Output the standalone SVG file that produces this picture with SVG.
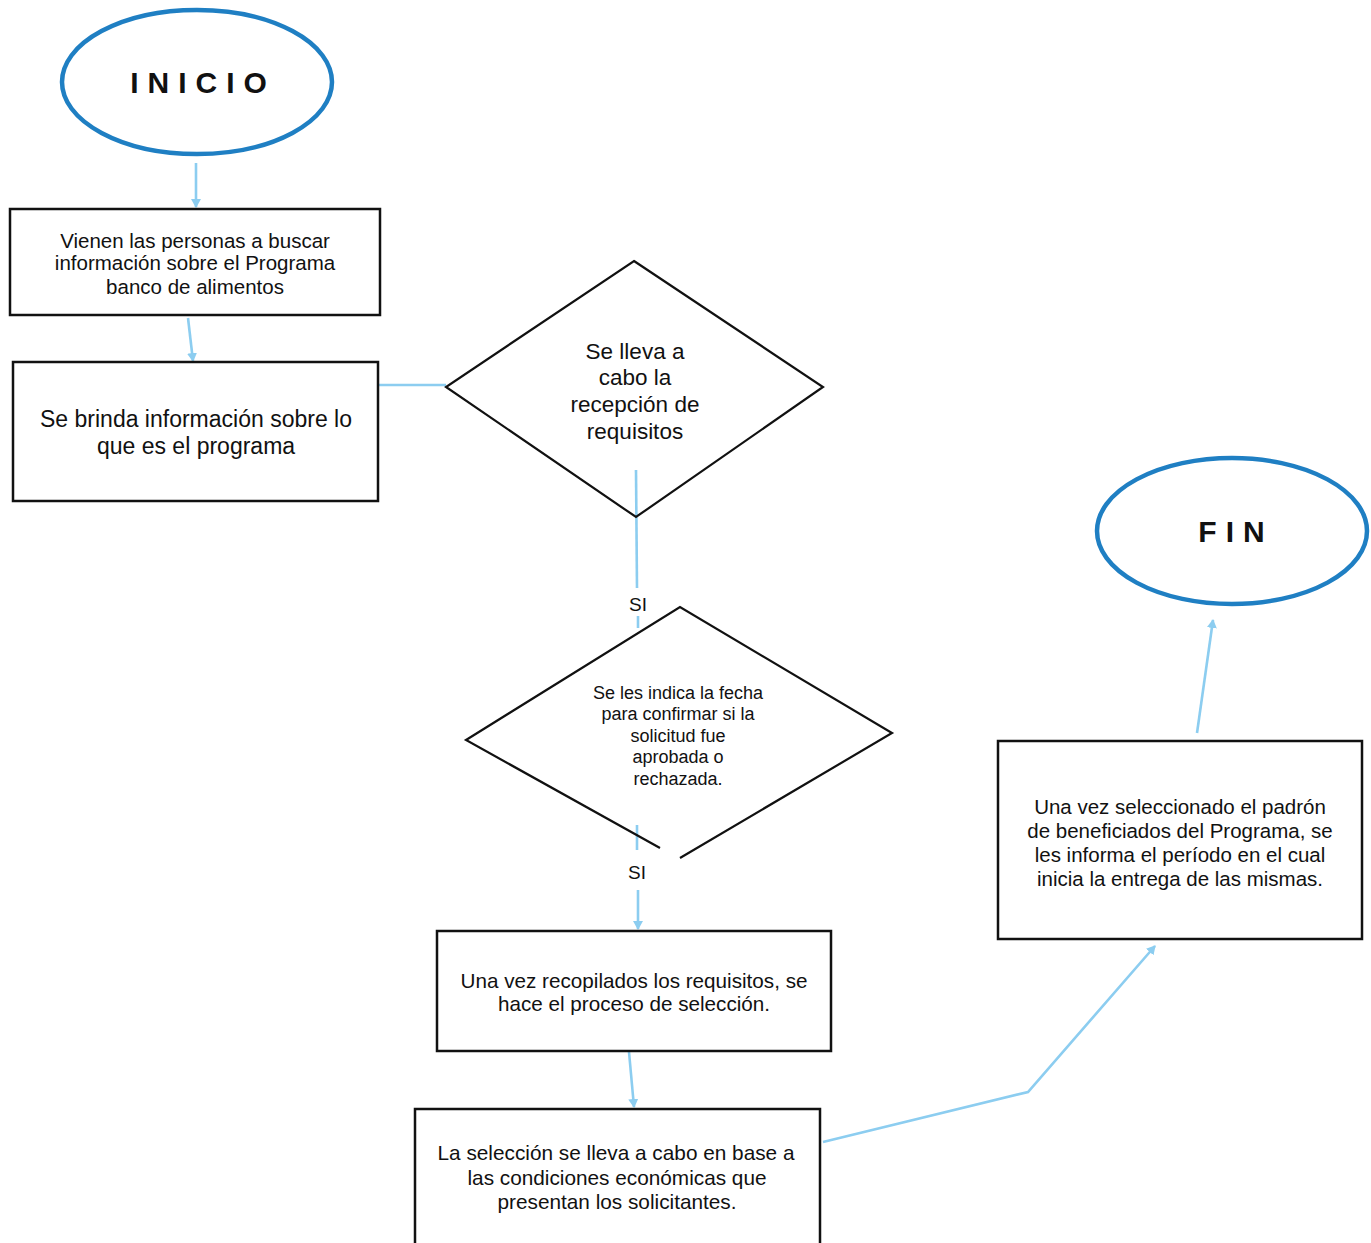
<svg xmlns="http://www.w3.org/2000/svg" width="1371" height="1243" viewBox="0 0 1371 1243">
<style>
.term{fill:#fff;stroke:#1f7fc3;stroke-width:4.5}
.box{fill:#fff;stroke:#111;stroke-width:2.5}
.dia{fill:none;stroke:#111;stroke-width:2.2}
.con{fill:none;stroke:#8ccdf0;stroke-width:2.6}
.t{font-family:"Liberation Sans",Arial,sans-serif;fill:#111;text-anchor:middle}
.tb{font-family:"Liberation Sans",Arial,sans-serif;font-weight:bold;fill:#111;text-anchor:middle;font-size:30px;letter-spacing:9px}
</style>
<defs>
<marker id="ah" markerWidth="10" markerHeight="10" refX="8" refY="5" orient="auto" markerUnits="userSpaceOnUse">
<path d="M0,0 L9,5 L0,10 Z" fill="#8ccdf0"/>
</marker>
</defs>
<rect width="1371" height="1243" fill="#fff"/>
<g id="connectors">
<line class="con" x1="196" y1="163" x2="196" y2="207" marker-end="url(#ah)"/>
<line class="con" x1="188" y1="318" x2="193" y2="361" marker-end="url(#ah)"/>
<line class="con" x1="378" y1="385" x2="446" y2="385"/>
<line class="con" x1="636" y1="470" x2="637" y2="588"/>
<line class="con" x1="638" y1="616" x2="638" y2="628"/>
<line class="con" x1="637" y1="825" x2="637" y2="850"/>
<line class="con" x1="638" y1="890" x2="638" y2="929" marker-end="url(#ah)"/>
<line class="con" x1="629" y1="1052" x2="634" y2="1107" marker-end="url(#ah)"/>
<polyline class="con" points="823,1142 1028,1092 1155,946" marker-end="url(#ah)"/>
<line class="con" x1="1197" y1="733" x2="1213" y2="620" marker-end="url(#ah)"/>
<text class="t" x="638" y="611" font-size="19">SI</text>
<text class="t" x="637" y="879" font-size="19">SI</text>
</g>
<g id="inicio">
<ellipse class="term" cx="197" cy="82" rx="135" ry="72"/>
<text class="tb" x="203" y="93">INICIO</text>
</g>
<g id="box1">
<rect class="box" x="10" y="209" width="370" height="106"/>
<text class="t" font-size="20.5"><tspan x="195" y="248">Vienen las personas a buscar</tspan><tspan x="195" y="270">información sobre el Programa</tspan><tspan x="195" y="294">banco de alimentos</tspan></text>
</g>
<g id="box2">
<rect class="box" x="13" y="362" width="365" height="139"/>
<text class="t" font-size="23"><tspan x="196" y="427">Se brinda información sobre lo</tspan><tspan x="196" y="454">que es el programa</tspan></text>
</g>
<g id="decision1">
<polygon class="dia" points="634,261 823,387 636,517 446,387"/>
<text class="t" font-size="22.5"><tspan x="635" y="359">Se lleva a</tspan><tspan x="635" y="385">cabo la</tspan><tspan x="635" y="412">recepción de</tspan><tspan x="635" y="439">requisitos</tspan></text>
</g>
<g id="decision2">
<polyline class="dia" points="660,848 466,740 680,607 892,733 680,858"/>
<text class="t" font-size="18"><tspan x="678" y="699">Se les indica la fecha</tspan><tspan x="678" y="720">para confirmar si la</tspan><tspan x="678" y="742">solicitud fue</tspan><tspan x="678" y="763">aprobada o</tspan><tspan x="678" y="785">rechazada.</tspan></text>
</g>
<g id="box3">
<rect class="box" x="437" y="931" width="394" height="120"/>
<text class="t" font-size="21"><tspan x="634" y="988" textLength="347" lengthAdjust="spacingAndGlyphs">Una vez recopilados los requisitos, se</tspan><tspan x="634" y="1011" textLength="272" lengthAdjust="spacingAndGlyphs">hace el proceso de selección.</tspan></text>
</g>
<g id="box4">
<rect class="box" x="415" y="1109" width="405" height="140"/>
<text class="t" font-size="21"><tspan x="616" y="1160" textLength="357" lengthAdjust="spacingAndGlyphs">La selección se lleva a cabo en base a</tspan><tspan x="617" y="1185" textLength="299" lengthAdjust="spacingAndGlyphs">las condiciones económicas que</tspan><tspan x="617" y="1209" textLength="239" lengthAdjust="spacingAndGlyphs">presentan los solicitantes.</tspan></text>
</g>
<g id="box5">
<rect class="box" x="998" y="741" width="364" height="198"/>
<text class="t" font-size="20.5"><tspan x="1180" y="814">Una vez seleccionado el padrón</tspan><tspan x="1180" y="838">de beneficiados del Programa, se</tspan><tspan x="1180" y="862">les informa el período en el cual</tspan><tspan x="1180" y="886">inicia la entrega de las mismas.</tspan></text>
</g>
<g id="fin">
<ellipse class="term" cx="1232" cy="531" rx="135" ry="73"/>
<text class="tb" x="1236" y="542">FIN</text>
</g>
</svg>
